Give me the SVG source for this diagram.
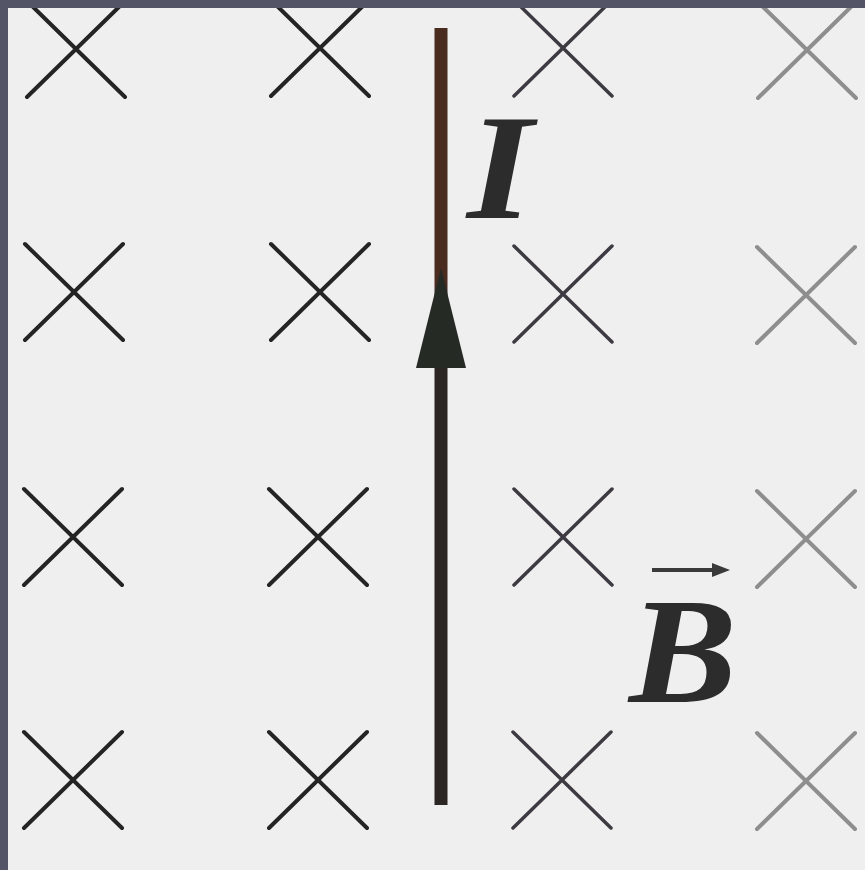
<svg xmlns="http://www.w3.org/2000/svg" width="865" height="870" viewBox="0 0 865 870">
  <defs>
    <style>
      .x1 { stroke: #242424; stroke-width: 4; stroke-linecap: round; fill: none; }
      .x3 { stroke: #3e3a42; stroke-width: 3.5; stroke-linecap: round; fill: none; }
      .x4 { stroke: #8e8e8e; stroke-width: 4; stroke-linecap: round; fill: none; }
      .lbl { font-family: "Liberation Serif", "Times New Roman", serif; font-style: italic; font-weight: bold; font-size: 150px; fill: #2c2c2c; }
    </style>
    <path id="xm" d="M -49 -48 L 49 48 M -49 48 L 49 -48"/>
  </defs>
  <rect x="0" y="0" width="865" height="870" fill="#efefef"/>

  <g id="field">
    <g id="col1" class="x1">
      <use href="#xm" x="76" y="49"/>
      <use href="#xm" x="74" y="292"/>
      <use href="#xm" x="73" y="537"/>
      <use href="#xm" x="73" y="780"/>
    </g>
    <g id="col2" class="x1">
      <use href="#xm" x="320" y="48"/>
      <use href="#xm" x="320" y="292"/>
      <use href="#xm" x="318" y="537"/>
      <use href="#xm" x="318" y="780"/>
    </g>
    <g id="col3" class="x3">
      <use href="#xm" x="563" y="48"/>
      <use href="#xm" x="563" y="294"/>
      <use href="#xm" x="563" y="537"/>
      <use href="#xm" x="562" y="780"/>
    </g>
    <g id="col4" class="x4">
      <use href="#xm" x="807" y="50"/>
      <use href="#xm" x="806" y="295"/>
      <use href="#xm" x="806" y="539"/>
      <use href="#xm" x="806" y="781"/>
    </g>
  </g>

  <g id="wire">
    <line x1="441" y1="28" x2="441" y2="290" stroke="#4a2b20" stroke-width="13"/>
    <line x1="441" y1="290" x2="441" y2="805" stroke="#2b2624" stroke-width="13"/>
    <polygon points="441,268 466,368 416,368" fill="#262a24"/>
  </g>

  <g id="label-I">
    <text class="lbl" x="467" y="218" textLength="66" lengthAdjust="spacingAndGlyphs">I</text>
  </g>
  <g id="label-B">
    <line x1="652" y1="570" x2="718" y2="570" stroke="#3a3a3a" stroke-width="4"/>
    <polygon points="730,570 712,563 712,577" fill="#3a3a3a"/>
    <text class="lbl" x="629" y="702" textLength="108" lengthAdjust="spacingAndGlyphs">B</text>
  </g>

  <rect x="0" y="0" width="865" height="8" fill="#535566"/>
  <rect x="0" y="0" width="8" height="870" fill="#535566"/>
</svg>
